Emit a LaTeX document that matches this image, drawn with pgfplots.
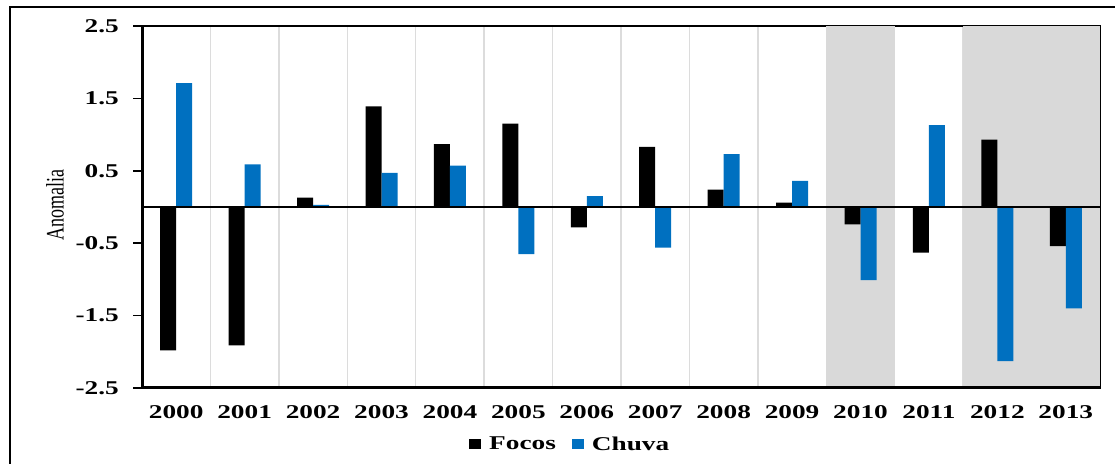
\documentclass[border=0pt]{standalone}
\usepackage{fontspec}
\usepackage{pgfplots}
\pgfplotsset{compat=1.18}
\setmainfont{Liberation Serif}
\newfontfamily\wide{Liberation Serif}[FakeStretch=1.4]

\definecolor{chuva}{HTML}{0070C0}
\definecolor{shade}{HTML}{D9D9D9}
\definecolor{gridc}{HTML}{DCDCDC}

% anomalies per year (index 0 = 2000)
\pgfplotstableread{
x focos chuva
0  -1.98  1.71
1  -1.91  0.59
2   0.13  0.03
3   1.39  0.47
4   0.87  0.57
5   1.15 -0.65
6  -0.28  0.15
7   0.83 -0.56
8   0.24  0.73
9   0.06  0.36
10 -0.24 -1.01
11 -0.63  1.13
12  0.93 -2.13
13 -0.54 -1.40
}\anom

\begin{document}
\begin{tikzpicture}
\useasboundingbox (0,0) rectangle (1115bp,464bp);
% outer frame
\draw[line width=2.5bp] (10bp,-10bp) -- (10bp,457bp) -- (1130bp,457bp);
\begin{axis}[
  at={(142bp,76bp)}, anchor=south west,
  scale only axis, width=958bp, height=362bp,
  xmin=-0.5, xmax=13.5, ymin=-2.5, ymax=2.5,
  xtick={0,...,13},
  xticklabels={2000,2001,2002,2003,2004,2005,2006,2007,2008,2009,2010,2011,2012,2013},
  x tick style={draw=none},
  minor xtick={0.5,1.5,...,12.5},
  xminorgrids=true,
  minor grid style={gridc, line width=1.5bp},
  minor x tick style={draw=none},
  ytick={-2.5,-1.5,-0.5,0.5,1.5,2.5},
  yticklabels={-2.5,-1.5,-0.5,0.5,1.5,2.5},
  ytick pos=left,
  y tick style={black, line width=1.5bp},
  tick align=outside, major tick length=9bp,
  axis line style={line width=1.5bp},
  ticklabel style={font=\wide\bfseries\fontsize{19.5bp}{22bp}\selectfont},
  xticklabel style={anchor=center, yshift=-15bp},
  yticklabel style={anchor=east, inner sep=0pt, xshift=-14bp},
  ylabel={\scalebox{1}[1.4]{Anomalia}},
  ylabel style={at={(axis description cs:-0.0908,0.505)}, anchor=center,
    font=\fontsize{18bp}{20bp}\selectfont},
  legend columns=2,
  legend style={draw=none, fill=none, at={(0.447,-0.155)}, anchor=center,
    font=\wide\bfseries\fontsize{19.5bp}{22bp}\selectfont,
    /tikz/every odd column/.append style={column sep=6bp},
    /tikz/every even column/.append style={column sep=14bp}},
  legend image code/.code={\fill[#1] (0bp,-5bp) rectangle (12bp,5bp);},
]
% shaded years
\addplot[fill=shade, draw=none, forget plot] coordinates {(9.5,-2.5) (9.5,2.5) (10.5,2.5) (10.5,-2.5)};
\addplot[fill=shade, draw=none, forget plot] coordinates {(11.5,-2.5) (11.5,2.5) (13.5,2.5) (13.5,-2.5)};

\addplot[ybar, bar width=16bp, bar shift=-8bp, fill=black, draw=none] table[x=x, y=focos] {\anom};
\addplot[ybar, bar width=16bp, bar shift=8bp, fill=chuva, draw=none] table[x=x, y=chuva] {\anom};

% zero line
\addplot[black, line width=1.5bp, forget plot] coordinates {(-0.5,0) (13.5,0)};

\draw[line width=3bp] (rel axis cs:0,1) -- (rel axis cs:0,0) -- (rel axis cs:1,0);

\legend{Focos, Chuva}
\end{axis}
\end{tikzpicture}
\end{document}
